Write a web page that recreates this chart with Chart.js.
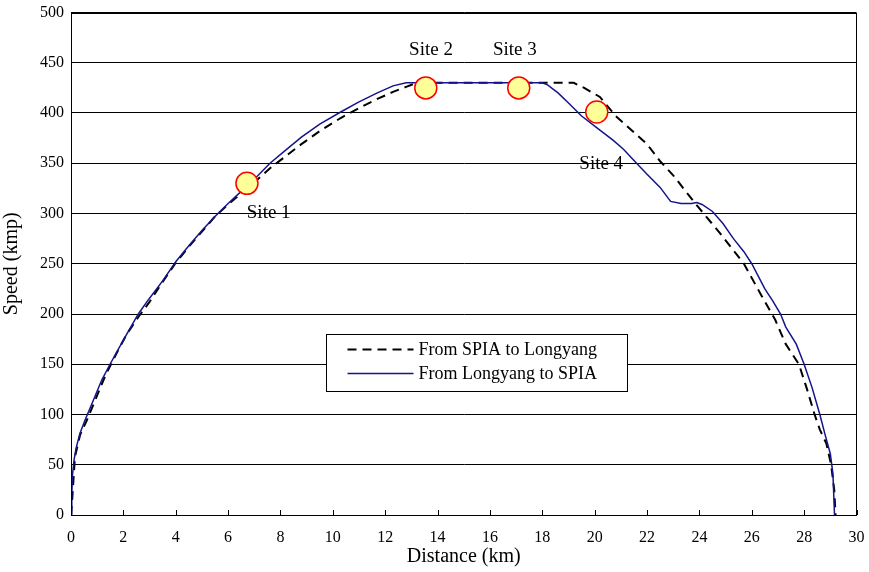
<!DOCTYPE html>
<html>
<head>
<meta charset="utf-8">
<script src="https://cdn.jsdelivr.net/npm/chart.js@4/dist/chart.umd.min.js"></script>
<style>
  html, body { margin: 0; padding: 0; background: #fff; }
  #wrap { width: 869px; height: 572px; position: relative; }
</style>
</head>
<body>
<div id="wrap"><canvas id="speedChart"></canvas></div>
<script>
// ---- data ----
// From SPIA to Longyang (dashed black)
const spiaDist = [0, 0.05, 0.15, 0.35, 0.6, 0.92, 1.3, 1.74, 2.13, 2.6, 3.0, 3.5, 4.0, 4.5, 5.0, 5.5, 6.0, 6.5, 7.0, 7.6, 8.2, 8.8, 9.5, 10.3, 11.0, 11.7, 12.3, 12.8, 13.2, 14, 16, 18, 19.2, 19.6, 20.2, 20.8, 21.4, 22.0, 22.5, 23.0, 23.6, 24.0, 24.8, 25.7, 26.4, 26.9, 27.3, 27.8, 28.1, 28.4, 28.6, 28.85, 29.03, 29.15, 29.2];
const spiaSpeed = [0, 17, 58, 80, 94, 114, 138, 161, 180, 198, 212, 232, 251, 267, 282, 297, 309, 320, 331, 345, 357, 369, 382, 395, 405, 414, 421, 426, 430, 430, 430, 430, 430, 425, 416, 397, 383, 369, 352, 338, 318, 305, 280, 250, 217, 194, 170, 150, 126, 100, 85, 71, 50, 25, 0];

// From Longyang to SPIA (solid blue)
const longDist = [0, 0.03, 0.06, 0.12, 0.19, 0.34, 0.53, 0.85, 1.17, 1.49, 2.0, 2.57, 2.95, 3.5, 4.0, 4.5, 5.0, 5.5, 6.0, 6.5, 7.0, 7.6, 8.2, 8.8, 9.5, 10.3, 11.0, 11.7, 12.3, 12.8, 13.5, 15, 16.5, 18.0, 18.2, 18.6, 19.0, 19.5, 20.2, 20.7, 21.1, 21.6, 22.0, 22.5, 22.9, 23.3, 23.7, 23.9, 24.1, 24.5, 24.9, 25.3, 25.7, 26.0, 26.5, 26.8, 27.1, 27.3, 27.7, 28.0, 28.3, 28.6, 28.8, 29.0, 29.1, 29.16];
const longSpeed = [0, 20, 41, 55, 66, 81, 94, 114, 134, 150, 174, 200, 214, 233, 252, 268, 283, 297, 310, 322, 334, 350, 363, 376, 389, 401, 411, 420, 427, 430, 430, 430, 430, 430, 428, 420, 410, 397, 383, 373, 364, 350, 339, 326, 312, 310, 310, 311, 309, 302, 290, 275, 262, 250, 225, 213, 200, 187, 170, 150, 127, 100, 80, 61, 41, 0];

// measurement sites
const siteNames = ['Site 1', 'Site 2', 'Site 3', 'Site 4'];
const siteDist = [6.72, 13.55, 17.1, 20.08];
const siteSpeed = [330, 425, 425, 401];

const legendLabels = ['From SPIA to Longyang', 'From Longyang to SPIA'];

const xTicks = [0, 2, 4, 6, 8, 10, 12, 14, 16, 18, 20, 22, 24, 26, 28, 30];
const yTicks = [0, 50, 100, 150, 200, 250, 300, 350, 400, 450, 500];

const SERIF = '"Liberation Serif", "DejaVu Serif", serif';
const BLUE = '#14148c';

function toPoints(xs, ys) {
    return xs.map((x, i) => ({ x: x, y: ys[i] }));
}

// ---- plugin: frame, inward x ticks, site labels, legend box ----
const decorPlugin = {
    id: 'decor',
    afterDraw(chart) {
        const ctx = chart.ctx;
        const a = chart.chartArea;
        const xs = chart.scales.x;
        const ys = chart.scales.y;
        ctx.save();
        // frame
        ctx.strokeStyle = '#000';
        ctx.lineWidth = 1;
        ctx.strokeRect(Math.round(a.left) + 0.5, Math.round(a.top) + 0.5,
            Math.round(a.right - a.left) - 1, Math.round(a.bottom - a.top) - 1);
        // inward ticks on x axis
        xTicks.forEach(v => {
            const px = Math.round(xs.getPixelForValue(v)) + 0.5;
            ctx.beginPath();
            ctx.moveTo(px, a.bottom);
            ctx.lineTo(px, a.bottom - 5);
            ctx.stroke();
        });
        // site labels (label position given in data units)
        ctx.fillStyle = '#000';
        ctx.font = '19px ' + SERIF;
        ctx.textAlign = 'center';
        ctx.textBaseline = 'middle';
        const labelAt = [[7.55, 300], [13.75, 463], [16.95, 463], [20.25, 349]];
        siteNames.forEach((name, i) => {
            ctx.fillText(name, xs.getPixelForValue(labelAt[i][0]), ys.getPixelForValue(labelAt[i][1]));
        });
        // legend box
        const bx0 = Math.round(xs.getPixelForValue(9.73)) + 0.5;
        const bx1 = Math.round(xs.getPixelForValue(21.22)) + 0.5;
        const by0 = Math.round(ys.getPixelForValue(180)) + 0.5;
        const by1 = Math.round(ys.getPixelForValue(123.3)) + 0.5;
        ctx.fillStyle = '#fff';
        ctx.fillRect(bx0, by0, bx1 - bx0, by1 - by0);
        ctx.strokeStyle = '#000';
        ctx.lineWidth = 1;
        ctx.strokeRect(bx0, by0, bx1 - bx0, by1 - by0);
        const rowY = [by0 + 15, by0 + 39];
        const lineX0 = bx0 + 21, lineX1 = bx0 + 87;
        // dashed sample
        ctx.beginPath();
        ctx.setLineDash([9, 6]);
        ctx.lineWidth = 2;
        ctx.strokeStyle = '#000';
        ctx.moveTo(lineX0, rowY[0]);
        ctx.lineTo(lineX1, rowY[0]);
        ctx.stroke();
        ctx.setLineDash([]);
        // solid sample
        ctx.beginPath();
        ctx.lineWidth = 1.5;
        ctx.strokeStyle = BLUE;
        ctx.moveTo(lineX0, rowY[1]);
        ctx.lineTo(lineX1, rowY[1]);
        ctx.stroke();
        ctx.fillStyle = '#000';
        ctx.font = '18px ' + SERIF;
        ctx.textAlign = 'left';
        ctx.fillText(legendLabels[0], lineX1 + 5, rowY[0] + 1);
        ctx.fillText(legendLabels[1], lineX1 + 5, rowY[1] + 1);
        ctx.restore();
    }
};

new Chart(document.getElementById('speedChart'), {
    type: 'scatter',
    data: {
        datasets: [
            {
                label: 'Sites',
                data: toPoints(siteDist, siteSpeed),
                pointRadius: 11,
                pointBackgroundColor: '#ffff99',
                pointBorderColor: '#ff0000',
                pointBorderWidth: 1.5,
                showLine: false,
                order: 0
            },
            {
                label: legendLabels[1],
                data: toPoints(longDist, longSpeed),
                borderColor: BLUE,
                borderWidth: 1.5,
                pointRadius: 0,
                showLine: true,
                tension: 0,
                order: 1
            },
            {
                label: legendLabels[0],
                data: toPoints(spiaDist, spiaSpeed),
                borderColor: '#000',
                borderWidth: 2,
                borderDash: [9, 6],
                pointRadius: 0,
                showLine: true,
                tension: 0,
                order: 2
            }
        ]
    },
    options: {
        responsive: true,
        maintainAspectRatio: false,
        animation: false,
        devicePixelRatio: 1,
        layout: { padding: { left: 0, right: 12, top: 12, bottom: 0 } },
        plugins: {
            legend: { display: false },
            tooltip: { enabled: false }
        },
        scales: {
            x: {
                type: 'linear',
                min: 0,
                max: 30,
                afterBuildTicks: s => { s.ticks = xTicks.map(v => ({ value: v })); },
                afterFit: s => { s.height = 57; s.paddingLeft = 0; s.paddingRight = 0; },
                grid: { display: false },
                border: { display: true, color: '#000', width: 1 },
                ticks: { color: '#000', font: { family: SERIF, size: 16 }, padding: 5, maxRotation: 0 },
                title: { display: true, text: 'Distance (km)', color: '#000', font: { family: SERIF, size: 20 }, padding: { top: 0, bottom: 3 } }
            },
            y: {
                type: 'linear',
                min: 0,
                max: 500,
                afterBuildTicks: s => { s.ticks = yTicks.map(v => ({ value: v })); },
                afterFit: s => { s.width = 71; s.paddingTop = 0; s.paddingBottom = 0; },
                grid: { color: '#000', lineWidth: 1, drawTicks: false },
                border: { display: true, color: '#000', width: 1 },
                ticks: { color: '#000', font: { family: SERIF, size: 16 }, padding: 7 },
                title: { display: true, text: 'Speed (kmp)', color: '#000', font: { family: SERIF, size: 20 }, padding: { top: 0, bottom: 4 } }
            }
        }
    },
    plugins: [decorPlugin]
});
</script>
</body>
</html>
